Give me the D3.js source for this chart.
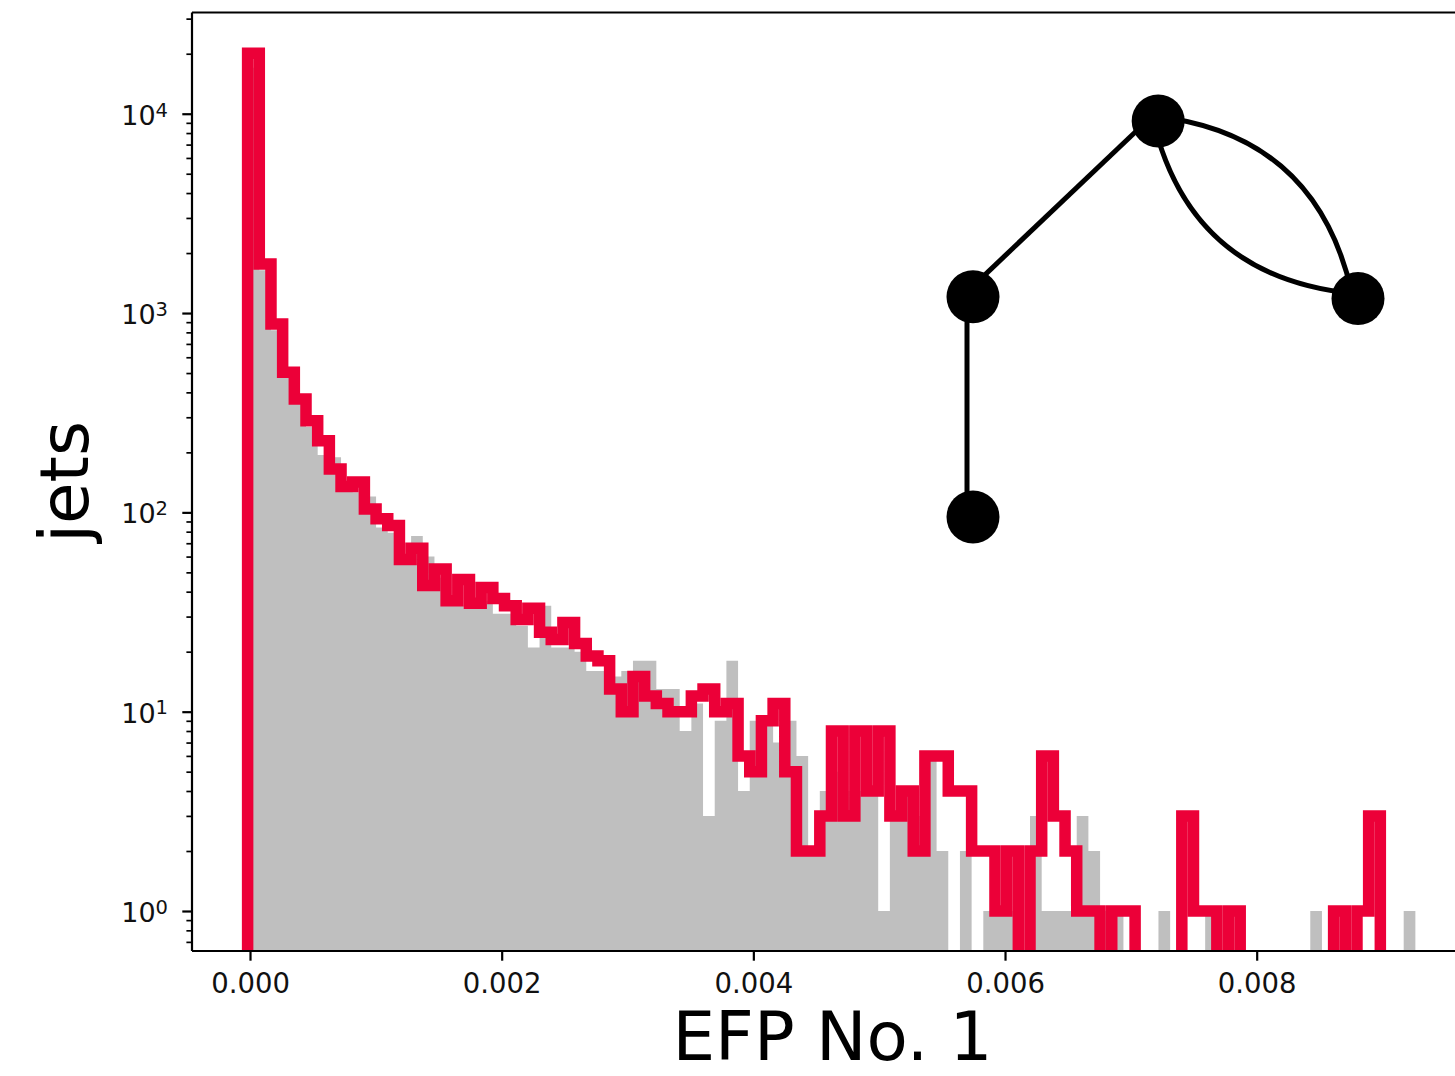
<!DOCTYPE html>
<html>
<head>
<meta charset="utf-8">
<script src="https://cdn.jsdelivr.net/npm/d3@7"></script>
<style>
  html, body { margin: 0; padding: 0; background: #ffffff; overflow: hidden; }
  svg { display: block; font-family: "DejaVu Sans", sans-serif; }
</style>
</head>
<body>
<svg id="chart" width="1455" height="1076"></svg>
<script>
// Histogram binning: 100 equal-width bins of the EFP value
const binStart = -0.000019;
const binWidth = 0.0000928;

// Signal jets per bin (red step outline)
const signalCounts = [
  20100, 1760, 880, 505, 370, 288, 229, 165, 135, 142,
  104, 93, 86, 58, 66, 43, 52, 36, 46, 35,
  42, 37, 34, 29, 33, 25, 23, 28, 22, 19,
  18, 13, 10, 15, 12, 11, 10, 10, 12, 13,
  10, 11, 6, 5, 9, 11, 5, 2, 2, 3,
  8, 3, 8, 4, 8, 3, 4, 2, 6, 6,
  4, 4, 2, 2, 1, 2, 0, 2, 6, 3,
  2, 1, 1, 0, 1, 1, 0, 0, 0, 0,
  3, 1, 1, 0, 1, 0, 0, 0, 0, 0,
  0, 0, 0, 1, 0, 1, 3, 0, 0, 0
];

// Background jets per bin (grey filled bars)
const backgroundCounts = [
  17000, 1640, 820, 480, 350, 268, 194, 189, 128, 126,
  120, 84, 79, 55, 76, 60, 47, 34, 34, 33,
  36, 31, 31, 27, 21, 34, 21, 21, 20, 16,
  16, 15, 16, 18, 18, 13, 13, 8, 11, 3,
  9, 18, 4, 9, 9, 7, 9, 6, 2, 4,
  5, 4, 4, 4, 1, 3, 4, 3, 6, 2,
  0, 2, 0, 1, 1, 1, 0, 3, 1, 1,
  1, 3, 2, 1, 1, 0, 0, 0, 1, 0,
  0, 0, 1, 0, 0, 0, 0, 0, 0, 0,
  0, 1, 0, 0, 0, 0, 0, 0, 0, 1
];

// Axis ticks
const xTickValues = [0, 0.002, 0.004, 0.006, 0.008];
const yMajorTicks = [1, 10, 100, 1000, 10000];
const yTickExponents = ["0", "1", "2", "3", "4"];

// Multigraph drawn in the upper right: nodes in unit layout space
const graphNodes = [
  { id: "left",   gx: 0.0,   gy: 0.444 },
  { id: "top",    gx: 0.481, gy: 0.0 },
  { id: "right",  gx: 1.0,   gy: 0.448 },
  { id: "bottom", gx: 0.0,   gy: 1.0 }
];
const graphEdges = [
  { source: "left", target: "top",    bend: 0 },
  { source: "left", target: "bottom", bend: 0 },
  { source: "top",  target: "right",  bend: 0.18 },
  { source: "top",  target: "right",  bend: -0.18 }
];

// ---- layout ----
const plot = { left: 192, top: 12.5, right: 1473, bottom: 951 };
const svg = d3.select("#chart");

const x = d3.scaleLinear().domain([-0.000461, 0.009719]).range([plot.left, plot.right]);
const y = d3.scaleLog().domain([0.63, 32200]).range([plot.bottom, plot.top]);

const binEdges = d3.range(signalCounts.length + 1).map(i => binStart + i * binWidth);

function stepVertices(counts) {
  const pts = [[binEdges[0], 0]];
  counts.forEach((c, i) => {
    pts.push([binEdges[i], c], [binEdges[i + 1], c]);
  });
  pts.push([binEdges[counts.length], 0]);
  return pts;
}
// empty bins fall below the log axis and are clipped away
const yOf = c => (c > 0 ? y(c) : plot.bottom + 60);

svg.append("defs").append("clipPath").attr("id", "plot-clip")
  .append("rect")
  .attr("x", plot.left).attr("y", plot.top)
  .attr("width", plot.right - plot.left).attr("height", plot.bottom - plot.top);

const inner = svg.append("g").attr("clip-path", "url(#plot-clip)");

// grey background histogram
const area = d3.area()
  .x(d => x(d[0]))
  .y0(plot.bottom + 60)
  .y1(d => yOf(d[1]));
inner.append("path")
  .datum(stepVertices(backgroundCounts))
  .attr("d", area)
  .attr("fill", "#bfbfbf")
  .attr("stroke", "none");

// red signal step outline
const line = d3.line()
  .x(d => x(d[0]))
  .y(d => yOf(d[1]));
inner.append("path")
  .datum(stepVertices(signalCounts))
  .attr("d", line)
  .attr("fill", "none")
  .attr("stroke", "#ec0038")
  .attr("stroke-width", 11.5)
  .attr("stroke-linejoin", "miter")
  .attr("stroke-linecap", "butt");

// ---- axes ----
const tickColor = "#000000";
const xAxis = d3.axisBottom(x)
  .tickValues(xTickValues)
  .tickFormat(d3.format(".3f"))
  .tickSize(9.7)
  .tickPadding(13);
const gx = svg.append("g").attr("transform", `translate(0,${plot.bottom})`).call(xAxis);
gx.select(".domain").remove();
gx.selectAll(".tick line").attr("stroke", tickColor).attr("stroke-width", 2.2);
gx.selectAll(".tick text")
  .attr("fill", "#111")
  .style("font-size", "27.5px")
  .style("font-family", "'DejaVu Sans', sans-serif");

// y minor ticks
const yMinor = y.ticks().filter(v => !yMajorTicks.includes(v));
const yMinorAxis = d3.axisLeft(y).tickValues(yMinor).tickSize(5.6).tickFormat("");
const gyMinor = svg.append("g").attr("transform", `translate(${plot.left},0)`).call(yMinorAxis);
gyMinor.select(".domain").remove();
gyMinor.selectAll(".tick line").attr("stroke", tickColor).attr("stroke-width", 1.7);

// y major ticks
const yMajorAxis = d3.axisLeft(y).tickValues(yMajorTicks).tickSize(9.7).tickFormat("");
const gyMajor = svg.append("g").attr("transform", `translate(${plot.left},0)`).call(yMajorAxis);
gyMajor.select(".domain").remove();
gyMajor.selectAll(".tick line").attr("stroke", tickColor).attr("stroke-width", 2.2);

// y tick labels as powers of ten
const yLabels = svg.append("g");
yMajorTicks.forEach((v, i) => {
  const t = yLabels.append("text")
    .attr("x", plot.left - 24)
    .attr("y", y(v) + 11)
    .attr("text-anchor", "end")
    .attr("fill", "#111")
    .style("font-size", "27px");
  t.append("tspan").text("10");
  t.append("tspan").attr("dy", "-0.42em").style("font-size", "19.5px").text(yTickExponents[i]);
});

// spines
const spines = svg.append("g").attr("stroke", "#000").attr("stroke-width", 2.2).attr("fill", "none");
spines.append("line").attr("x1", plot.left).attr("x2", plot.left).attr("y1", plot.top).attr("y2", plot.bottom);
spines.append("line").attr("x1", plot.left).attr("x2", plot.right).attr("y1", plot.top).attr("y2", plot.top);
spines.append("line").attr("x1", plot.left).attr("x2", plot.right).attr("y1", plot.bottom).attr("y2", plot.bottom);
spines.append("line").attr("x1", plot.right).attr("x2", plot.right).attr("y1", plot.top).attr("y2", plot.bottom);

// axis titles
svg.append("text")
  .attr("x", (plot.left + plot.right) / 2)
  .attr("y", 1059.5)
  .attr("text-anchor", "middle")
  .attr("fill", "#000")
  .style("font-size", "67.5px")
  .text("EFP No. 1");

svg.append("text")
  .attr("transform", `translate(88,${(plot.top + plot.bottom) / 2}) rotate(-90)`)
  .attr("text-anchor", "middle")
  .attr("fill", "#000")
  .style("font-size", "67.5px")
  .text("jets");

// ---- multigraph ----
const gxScale = d3.scaleLinear().domain([0, 1]).range([973, 1358]);
const gyScale = d3.scaleLinear().domain([0, 1]).range([121, 517]);
const nodeById = new Map(graphNodes.map(n => [n.id, n]));

const graph = svg.append("g");
const edgeLayer = graph.append("g").attr("transform", "translate(-6,-5)");
edgeLayer.selectAll("path")
  .data(graphEdges)
  .join("path")
  .attr("d", e => {
    const s = nodeById.get(e.source), t = nodeById.get(e.target);
    const x1 = gxScale(s.gx), y1 = gyScale(s.gy), x2 = gxScale(t.gx), y2 = gyScale(t.gy);
    if (!e.bend) return `M${x1},${y1}L${x2},${y2}`;
    const mx = (x1 + x2) / 2, my = (y1 + y2) / 2;
    const dx = x2 - x1, dy = y2 - y1;
    const len = Math.hypot(dx, dy);
    // control point pushed perpendicular to the chord
    const cx = mx + (dy / len) * e.bend * len * 2;
    const cy = my - (dx / len) * e.bend * len * 2;
    return `M${x1},${y1}Q${cx},${cy} ${x2},${y2}`;
  })
  .attr("fill", "none")
  .attr("stroke", "#000")
  .attr("stroke-width", 5);

graph.selectAll("circle")
  .data(graphNodes)
  .join("circle")
  .attr("cx", n => gxScale(n.gx))
  .attr("cy", n => gyScale(n.gy))
  .attr("r", 26.5)
  .attr("fill", "#000");
</script>
</body>
</html>
